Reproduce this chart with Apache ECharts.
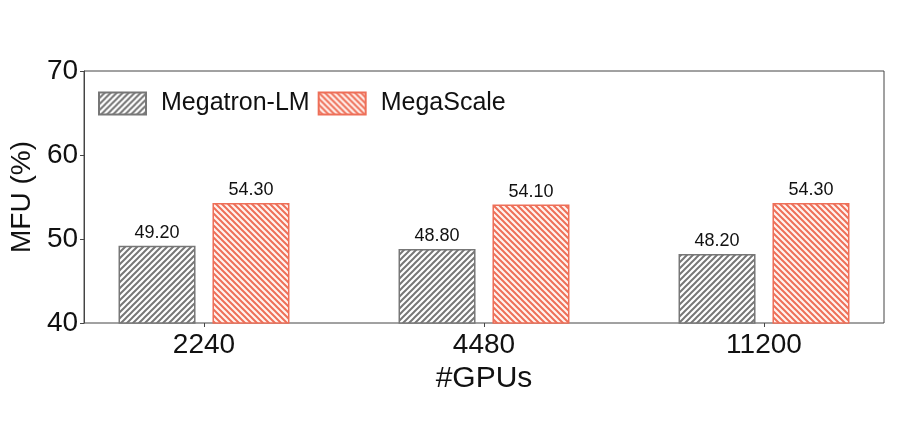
<!DOCTYPE html>
<html><head><meta charset="utf-8">
<script src="https://cdn.jsdelivr.net/npm/echarts@6/dist/echarts.min.js"></script>
<style>html,body{margin:0;padding:0;background:#fff}#c{width:912px;height:430px}</style>
</head><body><div id="c"></div>
<script>
var categories = ['2240', '4480', '11200'];
var megatron = [49.20, 48.80, 48.20];
var megascale = [54.30, 54.10, 54.30];
var seriesNames = ['Megatron-LM', 'MegaScale'];
var yTicks = [40, 50, 60, 70];

function hatch(stroke, bg, dir) {
  var s = 6, c = document.createElement('canvas');
  c.width = s; c.height = s;
  var g = c.getContext('2d');
  g.fillStyle = bg; g.fillRect(0, 0, s, s);
  g.strokeStyle = stroke; g.lineWidth = 2;
  g.beginPath();
  if (dir > 0) {
    g.moveTo(0, s); g.lineTo(s, 0);
    g.moveTo(-s, s); g.lineTo(s, -s);
    g.moveTo(0, 2 * s); g.lineTo(2 * s, 0);
  } else {
    g.moveTo(0, 0); g.lineTo(s, s);
    g.moveTo(-s, 0); g.lineTo(s, 2 * s);
    g.moveTo(0, -s); g.lineTo(2 * s, s);
  }
  g.stroke();
  return { image: c, repeat: 'repeat' };
}

var font = 'Liberation Sans, Arial, Helvetica, sans-serif';
var chart = echarts.init(document.getElementById('c'), null, { renderer: 'canvas' });
var grayC = '#777777', redC = '#EE6F58';
chart.setOption({
  animation: false,
  textStyle: { fontFamily: font },
  grid: [
    { left: 84, top: 71, width: 800, height: 252, show: true, borderColor: '#444', borderWidth: 1, backgroundColor: 'transparent' },
    { left: 64, top: 71, width: 840, height: 252 }
  ],
  legend: {
    left: 93, top: 86, itemWidth: 47, itemHeight: 22, itemGap: 8, icon: 'rect',
    data: seriesNames,
    textStyle: { fontSize: 25, color: '#111', fontFamily: font, padding: [0, 0, 0, 10] }
  },
  xAxis: [
    { gridIndex: 0, type: 'value', min: 0, max: 1, show: false },
    { gridIndex: 1, type: 'category', data: categories, boundaryGap: true,
      axisLine: { show: false },
      axisTick: { show: true, alignWithLabel: true, length: 4, lineStyle: { color: '#444' } },
      axisLabel: { fontSize: 28, color: '#111', margin: 8, fontFamily: font },
      name: '#GPUs', nameLocation: 'middle', nameGap: 31,
      nameTextStyle: { fontSize: 30, color: '#111', fontFamily: font, verticalAlign: 'top' }
    }
  ],
  yAxis: [
    { gridIndex: 0, type: 'value', min: 40, max: 70, interval: 10,
      axisLine: { show: true, lineStyle: { color: '#444' } },
      axisTick: { show: true, length: 4, lineStyle: { color: '#444' } },
      splitLine: { show: false },
      axisLabel: { fontSize: 28, color: '#111', margin: 6, fontFamily: font },
      name: 'MFU (%)', nameLocation: 'middle', nameGap: 44, nameRotate: 90,
      nameTextStyle: { fontSize: 28, color: '#111', fontFamily: font }
    },
    { gridIndex: 1, type: 'value', min: 40, max: 70, show: false }
  ],
  series: [
    { name: seriesNames[0], type: 'bar', xAxisIndex: 1, yAxisIndex: 1, data: megatron,
      barWidth: 77, barGap: '22%',
      itemStyle: { color: hatch(grayC, '#ffffff', 1), borderColor: grayC, borderWidth: 1.5 },
      label: { show: true, position: 'top', distance: 4, fontSize: 18, color: '#111', fontFamily: font,
        formatter: function (p) { return p.value.toFixed(2); } }
    },
    { name: seriesNames[1], type: 'bar', xAxisIndex: 1, yAxisIndex: 1, data: megascale,
      barWidth: 77, barGap: '22%',
      itemStyle: { color: hatch(redC, '#fff3ef', -1), borderColor: redC, borderWidth: 1.5 },
      label: { show: true, position: 'top', distance: 4, fontSize: 18, color: '#111', fontFamily: font,
        formatter: function (p) { return p.value.toFixed(2); } }
    }
  ]
});
</script></body></html>
